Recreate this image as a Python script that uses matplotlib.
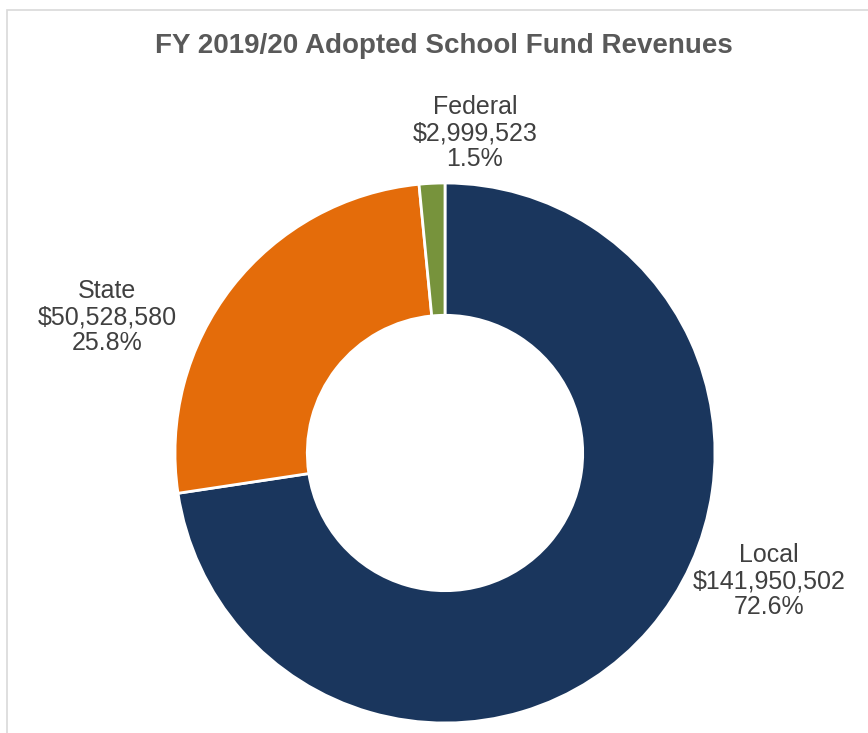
import matplotlib
matplotlib.use("Agg")
import matplotlib.pyplot as plt
from matplotlib.patches import Rectangle

categories = ["Local", "State", "Federal"]
values = [141950502, 50528580, 2999523]
colors = ["#1A365D", "#E46C0A", "#77933C"]
title = "FY 2019/20 Adopted School Fund Revenues"

plt.rcParams['font.family'] = ['Liberation Sans', 'DejaVu Sans']

W, H = 868, 733
fig = plt.figure(figsize=(W / 100, H / 100), dpi=100)
ax = fig.add_axes([0, 0, 1, 1])

R = 270
cx, cy = 445, H - 453
ax.pie(values, colors=colors, startangle=90, counterclock=False,
       center=(cx, cy), radius=R, frame=True,
       wedgeprops=dict(width=R * 0.49, edgecolor="white", linewidth=2))
ax.set_xlim(0, W)
ax.set_ylim(0, H)
ax.set_aspect('equal')
ax.axis('off')

# border of chart area
ax.add_patch(Rectangle((7, -20), W + 20, H - 10 + 20, fill=False,
                       edgecolor="#D9D9D9", linewidth=1.2, clip_on=False))

total = sum(values)
label_pos = [(769, H - 581), (107, H - 317), (475, H - 133)]
for name, v, (x, y) in zip(categories, values, label_pos):
    txt = f"{name}\n${v:,}\n{v / total * 100:.1f}%"
    ax.text(x, y, txt, ha='center', va='center', multialignment='center',
            fontsize=18, color="#404040", linespacing=1.13)

ax.text(444, H - 53, title, ha='center', va='baseline', fontsize=20,
        fontweight='bold', color="#595959")

fig.savefig("out.png", dpi=100)
